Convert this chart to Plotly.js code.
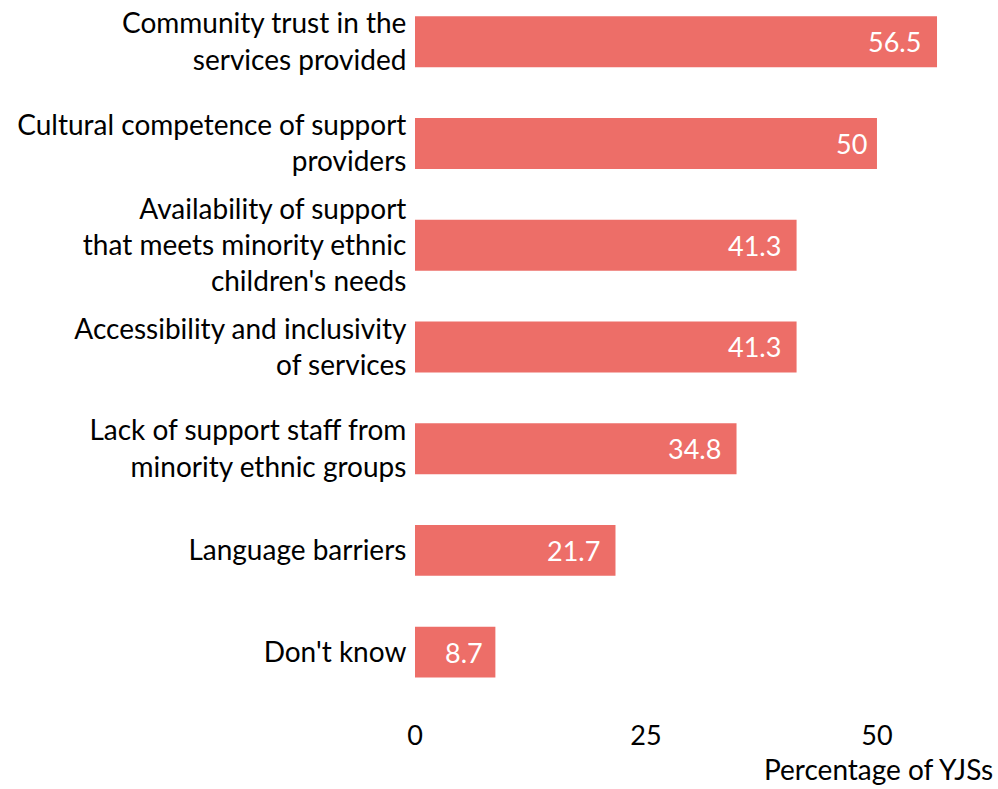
<!DOCTYPE html>
<html>
<head>
<meta charset="utf-8">
<script src="https://cdn.plot.ly/plotly-3.0.1.min.js"></script>
<style>html,body{margin:0;padding:0;background:#fff;}#chart{width:998px;height:789px;}</style>
</head>
<body>
<div id="chart"></div>
<script>
// Data (bottom to top order)
const categories = [
  "Don't know",
  "Language barriers",
  "Lack of support staff from<br>minority ethnic groups",
  "Accessibility and inclusivity<br>of services",
  "Availability of support<br>that meets minority ethnic<br>children's needs",
  "Cultural competence of support<br>providers",
  "Community trust in the<br>services provided"
];
const values = [8.7, 21.7, 34.8, 41.3, 41.3, 50, 56.5];
const valueLabels = ["8.7", "21.7", "34.8", "41.3", "41.3", "50", "56.5"];
const xTicks = [0, 25, 50];
const xTitle = "Percentage of YJSs";

const FONT = "Lato, 'Open Sans', sans-serif";
const FS = 27;
const YFS = 28;
const barColor = "#ED6E68";

function estWidth(s) {
  let w = 0;
  for (const c of s) w += (c === '.') ? 0.26 : 0.55;
  return w * FS;
}

const annotations = values.map((v, i) => ({
  x: v, y: categories[i], xref: 'x', yref: 'y',
  text: valueLabels[i], showarrow: false,
  xanchor: 'right', yanchor: 'middle',
  xshift: -0.27 * estWidth(valueLabels[i]),
  font: {family: FONT, size: FS, color: '#ffffff'}
}));
annotations.push({
  x: (995 - 415) / 583, y: 0, xref: 'paper', yref: 'paper',
  yshift: -88, text: xTitle, showarrow: false,
  xanchor: 'right', yanchor: 'bottom',
  font: {family: FONT, size: 28, color: '#000000'}
});

const trace = {
  type: 'bar', orientation: 'h',
  x: values, y: categories,
  width: 0.5,
  marker: {color: barColor},
  hoverinfo: 'none'
};

const layout = {
  width: 998, height: 789,
  margin: {l: 415, r: 0, t: 0, b: 89, pad: 0},
  paper_bgcolor: '#ffffff', plot_bgcolor: '#ffffff',
  showlegend: false,
  font: {family: FONT, size: FS, color: '#000000'},
  xaxis: {
    range: [0, 63.1], tickvals: xTicks, ticktext: xTicks.map(String),
    showgrid: false, zeroline: false, showline: false,
    ticks: 'outside', ticklen: 12, tickcolor: 'rgba(0,0,0,0)',
    tickfont: {family: FONT, size: FS, color: '#000000'}
  },
  yaxis: {
    type: 'category', categoryorder: 'array', categoryarray: categories,
    range: [-0.47, 6.41],
    showgrid: false, zeroline: false, showline: false,
    ticks: 'outside', ticklen: 2, tickcolor: 'rgba(0,0,0,0)',
    tickfont: {family: FONT, size: YFS, color: '#000000'}
  },
  annotations: annotations
};

Plotly.newPlot('chart', [trace], layout, {staticPlot: true, displayModeBar: false});
</script>
</body>
</html>
